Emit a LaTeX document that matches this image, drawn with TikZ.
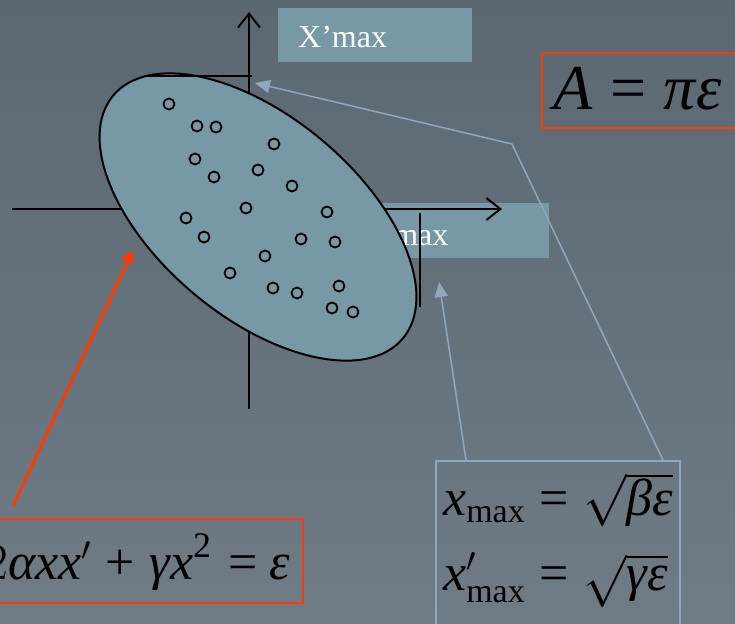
\RequirePackage{fix-cm}
\documentclass[tikz,border=0pt]{standalone}
\usepackage{amsmath}
\usepackage{fontspec}
\setmainfont{Liberation Serif}
\usetikzlibrary{arrows.meta,shapes.geometric}
\definecolor{slatetop}{RGB}{91,104,114}
\definecolor{slatebot}{RGB}{111,124,134}
\definecolor{beamfill}{RGB}{118,153,165}
\definecolor{hotred}{RGB}{255,58,0}
\definecolor{paleblue}{RGB}{143,168,190}
\DeclareMathSizes{52}{52}{34}{26}
\DeclareMathSizes{64}{64}{44}{32}
\newcommand{\itxt}[1]{\text{\itshape #1}}
\newcommand{\req}{\mathrel{\text{=}}}

\begin{document}
\begin{tikzpicture}[
    x=1pt, y=-1pt,
    axis/.style={line width=2pt, -{Straight Barb[length=14pt,width=22pt]}},
    tick/.style={line width=2pt},
    tagbox/.style={fill=beamfill, anchor=north west, inner sep=0pt},
    tagtext/.style={text=white, font=\fontsize{32}{38}\selectfont, anchor=base west, inner sep=0pt},
    dot/.style={circle, draw, line width=1.8pt, minimum size=11pt, inner sep=0pt},
    eqbox/.style={anchor=north west, inner sep=0pt},
    eqtext/.style={anchor=base west, inner sep=0pt, font=\fontsize{52}{62}\selectfont},
    redarr/.style={hotred, line width=3pt, -{Triangle[length=13pt,width=13pt]}},
    bluearr/.style={paleblue, line width=1.5pt, -{Triangle[length=15pt,width=13pt]}}
]
\useasboundingbox (0,0) rectangle (735,623);
\clip (0,0) rectangle (735,623);
\shade[top color=slatetop, bottom color=slatebot] (0,0) rectangle (735,623);

% labels under the ellipse
\node[tagbox, minimum width=194pt, minimum height=54pt] (xpbox) at (278,8) {};
\node[tagtext] (xplabel) at (298,48) {X’max};
\node[tagbox, minimum width=197pt, minimum height=55pt] (xbox) at (352,203) {};
\node[tagtext] (xlabel) at (370,245) {Xmax};

% axes
\coordinate (xleft) at (12,209);
\coordinate (xright) at (502,209);
\coordinate (ybot) at (249,409);
\coordinate (ytop) at (249,12);
\draw[axis] (xleft) -- (xright);
\draw[axis] (ybot) -- (ytop);

% phase space ellipse
\node[ellipse, draw, line width=2pt, fill=beamfill, minimum width=378pt, minimum height=200pt,
      inner sep=0pt, rotate=-40] (beam) at (258,217) {};
\draw[tick] (147,76) -- (252,76);
\draw[tick] (420,213) -- (420,307);
\foreach \px/\py [count=\i] in {169/104,197/126,216/127,274/144,195/159,214/177,258/170,
    292/186,246/208,327/212,186/218,204/237,301/239,335/242,265/256,230/273,339/286,
    273/288,297/293,332/308,353/312}
  \node[dot] (p\i) at (\px,\py) {};

% formulas
\node[eqbox, draw=hotred, line width=2pt, minimum width=222pt, minimum height=75pt] (areabox) at (541,52) {};
\node[eqtext, font=\fontsize{64}{74}\selectfont] (area) at (553,110) {$\itxt{A}\req\itxt{πε}$};
\node[eqbox, draw=hotred, line width=2pt, minimum width=330pt, minimum height=84pt] (ellbox) at (-28,518) {};
\node[eqtext] (ell) at (-16,579)
  {$2\itxt{αxx}'\mskip5mu\text{+}\mskip5mu\itxt{γx}\raisebox{22pt}{\fontsize{36}{40}\selectfont 2}\mskip6mu\text{=}\mskip4mu\itxt{ε}$};
\node[eqbox, draw=paleblue, line width=1.5pt, minimum width=244pt, minimum height=180pt] (maxbox) at (435,460) {};
\node[eqtext] (xmax) at (443,515) {$\itxt{x}_{\text{max}}\req\sqrt{\itxt{βε}}$};
\node[eqtext] (xpmax) at (443,590) {$\itxt{x}'_{\text{max}}\req\sqrt{\itxt{γε}}$};

% pointers
\coordinate (redtail) at (13,506);
\coordinate (redtip) at (133,250);
\coordinate (xtip) at (439,282);
\coordinate (knee) at (512,144);
\coordinate (xptip) at (255,83);
\draw[redarr] (redtail) -- (redtip);
\draw[bluearr] ([xshift=31pt]maxbox.north west) -- (xtip);
\draw[bluearr] ([xshift=228pt]maxbox.north west) -- (knee) -- (xptip);
\end{tikzpicture}
\end{document}
